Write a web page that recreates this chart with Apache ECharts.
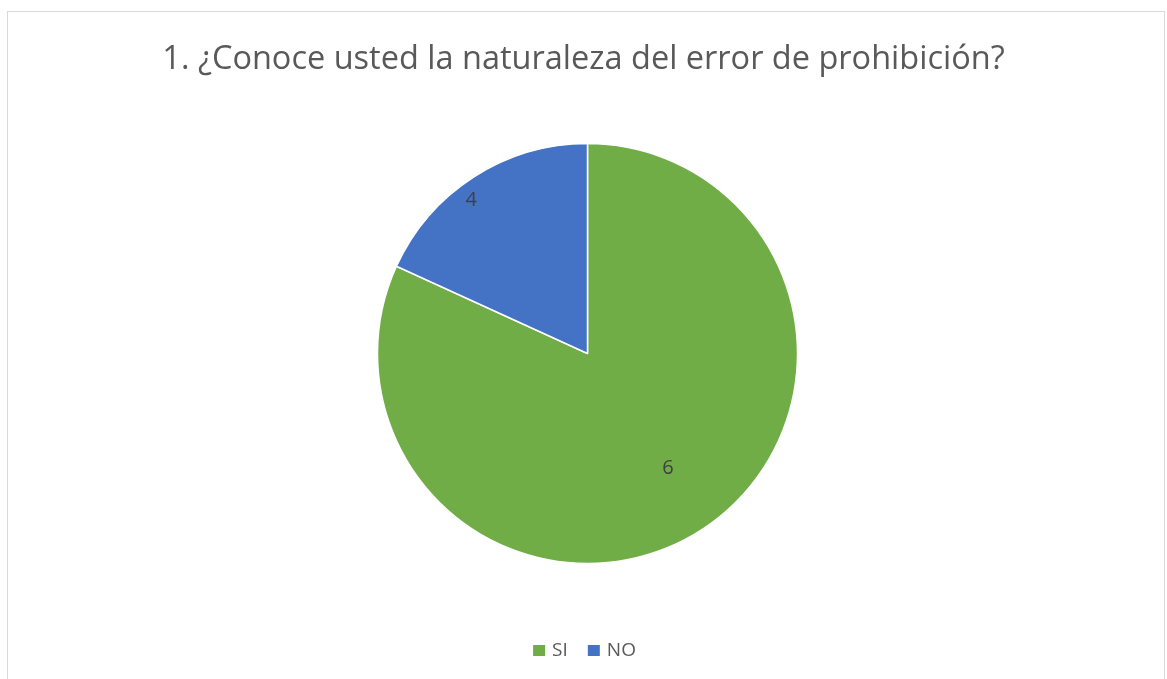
<!DOCTYPE html>
<html>
<head>
<meta charset="utf-8">
<script src="https://cdn.jsdelivr.net/npm/echarts@6/dist/echarts.min.js"></script>
<style>
  html, body { margin: 0; padding: 0; background: #fff; overflow: hidden; }
  #frame {
    position: absolute; left: 7px; top: 11px; width: 1158px; height: 700px;
    border: 1px solid #d9d9d9; box-sizing: border-box;
  }
  #chart { position: absolute; left: 0; top: 0; width: 1167px; height: 679px; }
</style>
</head>
<body>
<div id="frame"></div>
<div id="chart"></div>
<script>
// categories and values
const categories = ['SI', 'NO']
// slice sizes as drawn (NO covers about 65 degrees)
const sliceValues = [9, 2]
// data labels as printed on the slices
const labelTexts = ['6', '4']
const colors = ['#70ad47', '#4472c4']
const titleText = '1. ¿Conoce usted la naturaleza del error de prohibición?'

const chart = echarts.init(document.getElementById('chart'))

chart.setOption({
    animation: false,
    title: {
        text: titleText,
        left: 'center',
        top: 38,
        textStyle: {
            fontFamily: 'Open Sans',
            fontWeight: 'normal',
            fontSize: 32.5,
            color: '#595959'
        }
    },
    legend: {
        top: 636,
        left: 'center',
        itemWidth: 14,
        itemHeight: 13,
        itemGap: 18,
        icon: 'rect',
        textStyle: {
            fontFamily: 'Open Sans',
            fontSize: 19,
            color: '#595959',
            padding: [0, 0, 0, 1]
        },
        data: categories
    },
    series: [
        {
            type: 'pie',
            center: [587.5, 353.5],
            radius: 210,
            startAngle: 90,
            clockwise: true,
            label: {
                show: true,
                position: 'inside',
                fontFamily: 'Open Sans',
                fontSize: 20,
                color: '#404040',
                formatter: (p) => labelTexts[p.dataIndex]
            },
            labelLayout: (p) => p.dataIndex === 0 ? { dx: 22, dy: 24 } : { dx: -58, dy: -62 },
            itemStyle: {
                borderColor: '#fff',
                borderWidth: 1.5
            },
            emphasis: { disabled: true },
            data: categories.map((name, i) => ({
                name: name,
                value: sliceValues[i],
                itemStyle: { color: colors[i] }
            }))
        }
    ]
})

window.addEventListener('resize', () => chart.resize())
</script>
</body>
</html>
